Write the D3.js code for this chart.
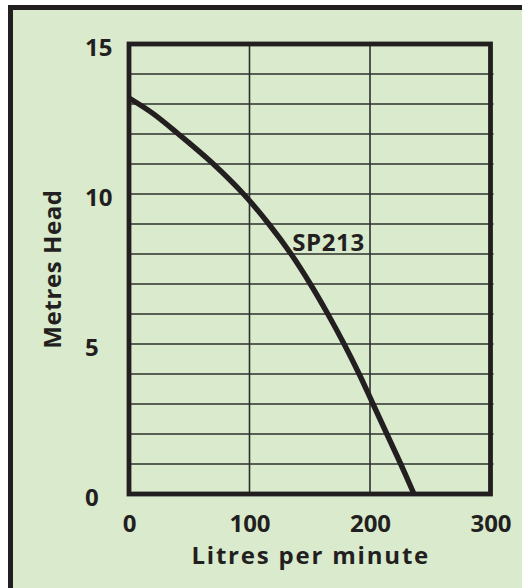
<!DOCTYPE html>
<html>
<head>
<meta charset="utf-8">
<script src="https://cdn.jsdelivr.net/npm/d3@7"></script>
<style>
  html, body { margin: 0; padding: 0; background: #ffffff; }
  svg { display: block; }
  text { font-family: "Open Sans", "Lato", sans-serif; font-weight: 700; fill: #231f20; }
</style>
</head>
<body>
<svg id="chart" width="522" height="588"></svg>
<script>
// ---- data ----
const flowLpm = [0, 20, 41, 70, 95, 116, 134.5, 150.5, 165, 178.5, 191, 202.5, 214, 225.5, 236.5];
const headM   = [13.2, 12.68, 12.0, 11.0, 10.0, 9.0, 8.0, 7.0, 6.0, 5.0, 4.0, 3.0, 2.0, 1.0, 0];
const xTicks = [0, 100, 200, 300];
const yTicks = [0, 5, 10, 15];
const yGrid = [1, 2, 3, 4, 5, 6, 7, 8, 9, 10, 11, 12, 13, 14];
const xGrid = [100, 200];
const seriesName = "SP213";
const xTitle = "Litres per minute";
const yTitle = "Metres Head";

// ---- layout ----
const svg = d3.select("#chart");
const ink = "#231f20";
const bg = "#d9eacd";

svg.append("rect")
  .attr("x", 10.5).attr("y", 7.5).attr("width", 640).attr("height", 700)
  .attr("fill", bg).attr("stroke", ink).attr("stroke-width", 5);

const x = d3.scaleLinear().domain([0, 300]).range([129, 490.5]);
const y = d3.scaleLinear().domain([0, 15]).range([494, 44]);

// grid
const g = svg.append("g");
g.selectAll("line.h").data(yGrid).join("line")
  .attr("x1", x(0) - 2).attr("x2", x(300) + 3)
  .attr("y1", d => y(d)).attr("y2", d => y(d))
  .attr("stroke", "#2e302c").attr("stroke-width", 1.6);
g.selectAll("line.v").data(xGrid).join("line")
  .attr("x1", d => x(d)).attr("x2", d => x(d))
  .attr("y1", y(15)).attr("y2", y(0))
  .attr("stroke", "#2e302c").attr("stroke-width", 1.6);

// frame
svg.append("rect")
  .attr("x", x(0)).attr("y", y(15))
  .attr("width", x(300) - x(0)).attr("height", y(0) - y(15))
  .attr("fill", "none").attr("stroke", ink).attr("stroke-width", 4.8);

// curve
const pts = flowLpm.map((f, i) => [f, headM[i]]);
const line = d3.line().x(d => x(d[0])).y(d => y(d[1])).curve(d3.curveCatmullRom.alpha(0.5));
svg.append("path").datum(pts)
  .attr("d", line)
  .attr("fill", "none").attr("stroke", ink).attr("stroke-width", 5.4)
  .attr("stroke-linejoin", "round");

// series label
svg.append("text")
  .attr("x", x(135.5)).attr("y", y(8.1))
  .attr("font-size", 24)
  .attr("letter-spacing", 0.6)
  .text(seriesName);

// axes (labels only)
const yAxis = svg.append("g").attr("transform", `translate(${x(0)},0)`)
  .call(d3.axisLeft(y).tickValues(yTicks).tickSize(0).tickFormat(d3.format("d")));
yAxis.select(".domain").remove();
yAxis.selectAll("text")
  .attr("x", 85 - x(0)).attr("dy", null).attr("y", 11)
  .attr("text-anchor", "start")
  .attr("font-size", 24).attr("fill", ink);
yAxis.attr("font-family", null).attr("font-size", null);

const xAxis = svg.append("g").attr("transform", `translate(0,${y(0)})`)
  .call(d3.axisBottom(x).tickValues(xTicks).tickSize(0).tickFormat(d3.format("d")));
xAxis.select(".domain").remove();
xAxis.selectAll("text")
  .attr("dy", null).attr("y", 38)
  .attr("font-size", 24).attr("fill", ink);
xAxis.attr("font-family", null).attr("font-size", null);

// titles
svg.append("text")
  .attr("x", (x(0) + x(300)) / 2 + 1).attr("y", 564)
  .attr("text-anchor", "middle").attr("font-size", 24)
  .attr("letter-spacing", 1.8)
  .text(xTitle);

svg.append("text")
  .attr("transform", `translate(61,${(y(0) + y(15)) / 2}) rotate(-90)`)
  .attr("text-anchor", "middle").attr("font-size", 24)
  .attr("letter-spacing", 0.6)
  .text(yTitle);
</script>
</body>
</html>
